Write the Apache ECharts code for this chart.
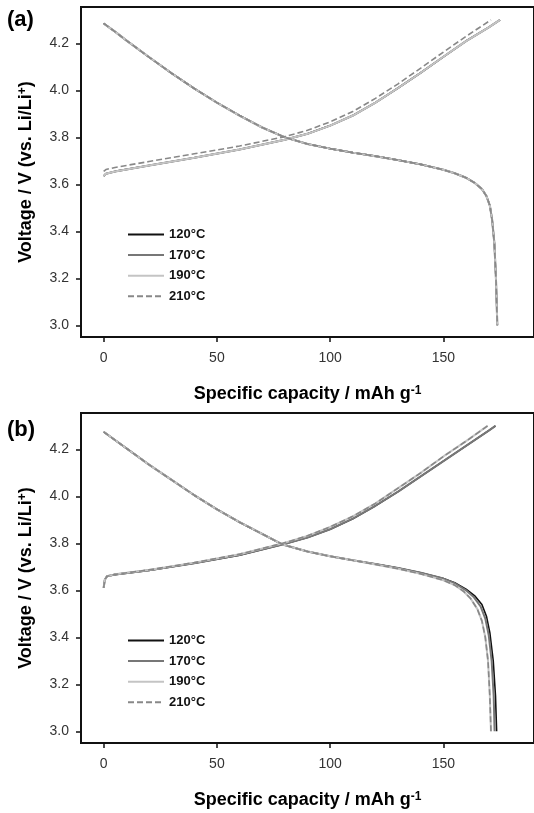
<!DOCTYPE html>
<html>
<head>
<meta charset="utf-8">
<script src="https://cdn.jsdelivr.net/npm/echarts@6/dist/echarts.min.js"></script>
<style>
  html, body { margin: 0; padding: 0; background: #fff; }
  #chart { width: 534px; height: 813px; }
</style>
</head>
<body>
<div id="chart"></div>
<script>
// tick labels
const capTicks = [0, 50, 100, 150];
const voltTicks = [3.0, 3.2, 3.4, 3.6, 3.8, 4.0, 4.2];
const temps = ['120°C', '170°C', '190°C', '210°C'];

// panel (a): [capacity mAh/g, voltage V]
const chargeA = [[0, 3.635], [1, 3.645], [5, 3.655], [20, 3.68], [40, 3.713], [60, 3.748], [80, 3.79], [90, 3.815], [100, 3.85], [110, 3.893], [120, 3.948], [130, 4.01], [140, 4.075], [150, 4.143], [160, 4.21], [170, 4.268], [175, 4.30]];
const chargeA210 = [[0, 3.655], [1, 3.663], [5, 3.672], [20, 3.697], [40, 3.73], [60, 3.763], [80, 3.803], [90, 3.83], [100, 3.866], [110, 3.91], [120, 3.966], [130, 4.028], [140, 4.095], [150, 4.163], [160, 4.23], [171, 4.30]];
const dischargeA = [[0, 4.285], [5, 4.25], [10, 4.213], [20, 4.142], [30, 4.073], [40, 4.008], [50, 3.948], [60, 3.893], [70, 3.842], [80, 3.80], [90, 3.772], [100, 3.752], [110, 3.735], [120, 3.72], [130, 3.703], [140, 3.685], [150, 3.662], [155, 3.647], [160, 3.628], [164, 3.605], [167, 3.58], [169, 3.55], [170.5, 3.51], [171.5, 3.45], [172.5, 3.35], [173.2, 3.2], [173.8, 3.0]];

// panel (b)
const chargeB = [[0, 3.61], [0.5, 3.645], [1.5, 3.66], [5, 3.667], [20, 3.685], [40, 3.715], [60, 3.75], [79, 3.795], [90, 3.825], [100, 3.86], [110, 3.905], [120, 3.96], [130, 4.02], [140, 4.085], [150, 4.15], [160, 4.215], [170, 4.28], [173, 4.30]];
const chargeBlow = [[0, 3.61], [0.5, 3.645], [1.5, 3.66], [5, 3.668], [20, 3.687], [40, 3.718], [60, 3.754], [79, 3.80], [90, 3.832], [100, 3.87], [110, 3.915], [120, 3.97], [130, 4.035], [140, 4.10], [150, 4.17], [160, 4.235], [169.5, 4.30]];
const dischargeB120 = [[0, 4.275], [10, 4.205], [20, 4.135], [30, 4.07], [40, 4.005], [50, 3.945], [60, 3.89], [70, 3.84], [79, 3.795], [90, 3.765], [100, 3.745], [110, 3.728], [120, 3.712], [130, 3.695], [140, 3.675], [150, 3.65], [155, 3.632], [160, 3.605], [164, 3.575], [167, 3.54], [169, 3.49], [170.5, 3.42], [172, 3.3], [173, 3.15], [173.5, 3.0]];
const dischargeB170 = [[0, 4.275], [10, 4.205], [20, 4.135], [30, 4.07], [40, 4.005], [50, 3.945], [60, 3.89], [70, 3.84], [79, 3.795], [90, 3.765], [100, 3.745], [110, 3.728], [120, 3.712], [130, 3.695], [140, 3.675], [150, 3.65], [155, 3.63], [160, 3.6], [163.5, 3.57], [166.5, 3.53], [168.5, 3.48], [170, 3.41], [171.3, 3.3], [172.2, 3.15], [172.6, 3.0]];
const dischargeBlow = [[0, 4.275], [10, 4.205], [20, 4.135], [30, 4.07], [40, 4.005], [50, 3.945], [60, 3.89], [70, 3.84], [79, 3.795], [90, 3.765], [100, 3.745], [110, 3.728], [120, 3.71], [130, 3.692], [140, 3.67], [150, 3.643], [155, 3.622], [159, 3.595], [162, 3.565], [165, 3.52], [167, 3.47], [168.5, 3.4], [169.7, 3.3], [170.5, 3.15], [171, 3.0]];

const lineStyles = [
  { color: '#111', width: 1.6, type: 'solid' },
  { color: '#777', width: 2, type: 'solid' },
  { color: '#c4c4c4', width: 2, type: 'solid' },
  { color: '#888', width: 1.6, type: [6, 3] }
];

const panelA = [[chargeA, dischargeA], [chargeA, dischargeA], [chargeA, dischargeA], [chargeA210, dischargeA]];
const panelB = [[chargeB, dischargeB120], [chargeB, dischargeB170], [chargeBlow, dischargeBlow], [chargeBlow, dischargeBlow]];

const labelFont = { fontFamily: 'Liberation Sans', fontSize: 14, color: '#333' };
const titleFont = { fontFamily: 'Liberation Sans', fontSize: 18, fontWeight: 'bold', color: '#000' };
const richSup = {
  sup: { fontFamily: 'Liberation Sans', fontSize: 12, fontWeight: 'bold', color: '#000', verticalAlign: 'top', lineHeight: 11 }
};

function makeX(idx) {
  return {
    type: 'value', gridIndex: idx, min: -10, max: 190,
    name: 'Specific capacity / mAh g{sup|-1}',
    nameLocation: 'middle', nameGap: 48,
    nameTextStyle: Object.assign({ rich: richSup }, titleFont),
    axisLine: { show: true, onZero: false, lineStyle: { color: '#111', width: 2 } },
    axisTick: { show: true, customValues: capTicks, length: 5, lineStyle: { color: '#111', width: 1.5 } },
    axisLabel: Object.assign({ customValues: capTicks, margin: 14 }, labelFont),
    splitLine: { show: false }
  };
}
function makeY(idx) {
  return {
    type: 'value', gridIndex: idx, min: 2.95, max: 4.355,
    name: 'Voltage / V (vs. Li/Li{sup|+})',
    nameLocation: 'middle', nameGap: 46, nameRotate: 90,
    nameTextStyle: Object.assign({ rich: richSup }, titleFont),
    axisLine: { show: true, onZero: false, lineStyle: { color: '#111', width: 2 } },
    axisTick: { show: true, customValues: voltTicks, length: 5, lineStyle: { color: '#111', width: 1.5 } },
    axisLabel: Object.assign({ customValues: voltTicks, margin: 12, formatter: v => v.toFixed(1) }, labelFont),
    splitLine: { show: false }
  };
}

const series = [];
[panelA, panelB].forEach((panel, p) => {
  panel.forEach((curves, i) => {
    curves.forEach(d => {
      series.push({
        type: 'line', name: temps[i], xAxisIndex: p, yAxisIndex: p,
        data: d, showSymbol: false, symbol: 'none', smooth: false,
        lineStyle: lineStyles[i], itemStyle: { color: lineStyles[i].color },
        silent: true, animation: false
      });
    });
  });
});

function makeLegend(top) {
  return {
    data: temps, orient: 'vertical', left: 122, top: top,
    itemWidth: 36, itemHeight: 14, itemGap: 7.6,
    itemStyle: { opacity: 0 },
    textStyle: { fontFamily: 'Liberation Sans', fontSize: 13, fontWeight: 'bold', color: '#111' }
  };
}

const chart = echarts.init(document.getElementById('chart'));
chart.setOption({
  backgroundColor: '#fff',
  animation: false,
  grid: [
    { left: 81, right: -5, top: 7, bottom: 476, show: true, borderColor: '#111', borderWidth: 2 },
    { left: 81, right: -5, top: 413, bottom: 70, show: true, borderColor: '#111', borderWidth: 2 }
  ],
  xAxis: [makeX(0), makeX(1)],
  yAxis: [makeY(0), makeY(1)],
  legend: [makeLegend(223), makeLegend(629)],
  graphic: [
    { type: 'text', left: 7, top: 9, style: { text: '(a)', font: 'bold 22px Liberation Sans', fill: '#000' } },
    { type: 'text', left: 7, top: 419, style: { text: '(b)', font: 'bold 22px Liberation Sans', fill: '#000' } }
  ],
  series: series
});
</script>
</body>
</html>
